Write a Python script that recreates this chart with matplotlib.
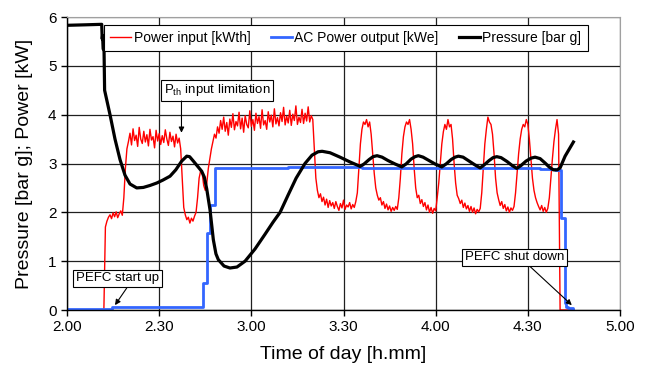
import numpy as np
import matplotlib
matplotlib.use('Agg')
import matplotlib.pyplot as plt

plt.rcParams['font.family'] = 'Liberation Sans'
plt.rcParams['mathtext.default'] = 'regular'

# thermal power input, logged every 30 s from 2.00 h (decimal hours)
red_power = [0.0] * 24 + [
    0.00, 1.70, 1.82, 1.90, 1.95, 1.87, 1.99, 1.91, 2.01, 1.89,
    1.97, 2.03, 1.94, 2.30, 2.90, 3.30, 3.45, 3.62, 3.38, 3.71,
    3.47, 3.58, 3.35, 3.74, 3.50, 3.41, 3.66, 3.44, 3.59, 3.36,
    3.70, 3.48, 3.55, 3.32, 3.68, 3.46, 3.61, 3.39, 3.57, 3.43,
    3.69, 3.50, 3.37, 3.64, 3.45, 3.56, 3.34, 3.60, 3.42, 3.52,
    3.30, 2.70, 2.10, 1.95, 1.85, 1.90, 1.78, 1.88, 1.82, 1.92,
    2.00, 2.30, 2.70, 2.85, 2.80, 2.55, 2.45, 2.60, 2.90, 3.10,
    3.30, 3.45, 3.60, 3.52, 3.75, 3.62, 3.88, 3.70, 3.95, 3.66,
    3.84, 3.58, 3.91, 3.74, 4.02, 3.69, 3.86, 3.77, 4.05, 3.71,
    3.93, 3.64, 3.98, 3.80, 3.73, 4.08, 3.76, 3.90, 3.68, 4.03,
    3.82, 3.96, 3.72, 4.10, 3.79, 3.88, 3.70, 4.06, 3.85, 3.99,
    3.75, 4.12, 3.81, 3.94, 3.77, 4.04, 3.86, 4.15, 3.79, 3.97,
    3.83, 4.09, 3.78, 4.01, 3.88, 4.18, 3.80, 3.95, 3.84, 4.11,
    3.82, 4.03, 3.87, 4.16, 3.85, 3.98, 3.90, 3.30, 2.70, 2.45,
    2.30, 2.38, 2.22, 2.31, 2.15, 2.27, 2.10, 2.24, 2.13, 2.20,
    2.08, 2.22, 2.12, 2.04, 2.18, 2.09, 2.25, 2.06, 2.15, 2.11,
    2.20, 2.07, 2.16, 2.10, 2.22, 2.40, 2.90, 3.40, 3.70, 3.85,
    3.80, 3.90, 3.75, 3.85, 3.60, 3.20, 2.80, 2.50, 2.35, 2.25,
    2.30, 2.15, 2.22, 2.08, 2.17, 2.05, 2.13, 2.02, 2.10, 2.04,
    2.12, 2.06, 2.30, 2.70, 3.20, 3.55, 3.75, 3.85, 3.80, 3.90,
    3.70, 3.40, 2.90, 2.50, 2.30, 2.35, 2.18, 2.26, 2.12, 2.20,
    2.05, 2.15, 2.00, 2.10, 1.98, 2.08, 2.03, 2.30, 2.60, 3.00,
    3.40, 3.65, 3.80, 3.70, 3.90, 3.75, 3.80, 3.50, 3.00, 2.60,
    2.35, 2.28, 2.18, 2.25, 2.10, 2.19, 2.07, 2.14, 2.02, 2.12,
    2.00, 2.09, 1.97, 2.06, 2.01, 2.08, 2.40, 2.90, 3.40, 3.70,
    3.95, 3.85, 3.80, 3.60, 3.20, 2.70, 2.40, 2.26, 2.14, 2.22,
    2.08, 2.16, 2.03, 2.11, 2.00, 2.09, 2.04, 2.12, 2.40, 2.80,
    3.20, 3.50, 3.70, 3.80, 3.75, 3.90, 3.80, 3.50, 3.10, 2.70,
    2.45, 2.30, 2.20, 2.12, 2.05, 2.14, 2.02, 2.10, 2.00, 2.08,
    2.30, 2.70, 3.10, 3.45, 3.70, 3.90, 3.60, 0.00, 0.00, 0.00,
    0.00, 0.00, 0.00, 0.00, 0.00, 0.00, 0.00,
]
red_time = 2.0 + np.arange(len(red_power)) / 120.0

# AC power output (step changes)
blue_time = [2.000, 2.243, 2.739, 2.757, 2.776, 2.803, 3.200, 3.600, 4.000,
             4.400, 4.566, 4.610, 4.645, 4.678, 4.700, 4.705, 4.720, 4.747]
blue_power = [0.02, 0.06, 0.55, 1.58, 2.15, 2.91, 2.92, 2.91, 2.91,
              2.90, 2.89, 2.88, 2.87, 1.88, 0.15, 0.07, 0.04, 0.03]

# pressure
p_time = [2.000, 2.100, 2.1883, 2.1910, 2.1930, 2.1960, 2.2010, 2.2040,
          2.2333, 2.2604, 2.2876, 2.3147, 2.3418, 2.3782, 2.4140,
          2.4500, 2.4867, 2.5200, 2.5589, 2.5900, 2.6224, 2.6495, 2.6650,
          2.6853, 2.7309, 2.7450, 2.7580, 2.7759, 2.7938, 2.8080, 2.8210,
          2.8520, 2.8840, 2.9220, 2.9660, 3.0200, 3.0740, 3.1180, 3.1560,
          3.1990, 3.2430, 3.2910, 3.3290, 3.3620, 3.3840, 3.4270, 3.4810,
          3.5360, 3.5790, 3.5898, 3.6115, 3.6386, 3.6603, 3.6820, 3.7092,
          3.7417, 3.7797, 3.8161, 3.8394, 3.8665, 3.8882, 3.9061, 3.9316,
          3.9642, 3.9967, 4.0331, 4.0564, 4.0836, 4.1053, 4.1232, 4.1487,
          4.1812, 4.2138, 4.2409, 4.2626, 4.2897, 4.3114, 4.3315, 4.3548,
          4.3874, 4.4145, 4.4401, 4.4634, 4.4905, 4.5176, 4.5393, 4.5665,
          4.5936, 4.6153, 4.6386, 4.6587, 4.6750, 4.7021, 4.7472]
pressure = [5.83, 5.84, 5.85, 5.55, 5.62, 5.35, 5.30, 4.50,
            4.00, 3.50, 3.08, 2.76, 2.58, 2.50, 2.51,
            2.55, 2.60, 2.66, 2.74, 2.87, 3.05, 3.15, 3.14,
            3.05, 2.84, 2.72, 2.48, 2.05, 1.44, 1.15, 1.03,
            0.90, 0.86, 0.88, 1.00, 1.25, 1.55, 1.80, 2.00,
            2.35, 2.70, 3.00, 3.17, 3.24, 3.25, 3.22, 3.13,
            3.03, 2.96, 2.94, 2.99, 3.08, 3.14, 3.16, 3.13,
            3.06, 2.99, 2.93, 2.99, 3.09, 3.14, 3.16, 3.13,
            3.06, 2.99, 2.93, 2.99, 3.08, 3.13, 3.15, 3.13,
            3.05, 2.97, 2.91, 2.97, 3.06, 3.12, 3.14, 3.12,
            3.04, 2.96, 2.90, 2.96, 3.05, 3.11, 3.13, 3.10,
            3.01, 2.93, 2.87, 2.87, 2.91, 3.15, 3.44]

x_ticks = [2.0, 2.5, 3.0, 3.5, 4.0, 4.5, 5.0]
x_labels = ['2.00', '2.30', '3.00', '3.30', '4.00', '4.30', '5.00']


def main():
    fig = plt.figure(figsize=(6.48, 3.68), dpi=100)
    ax = fig.add_axes([0.1034, 0.1576, 0.8534, 0.7962])

    ax.plot(red_time, red_power, color='#ff0000', lw=1.0, label='Power input [kWth]')
    ax.plot(blue_time, blue_power, color='#3366ff', lw=2.0, drawstyle='steps-post',
            label='AC Power output [kWe]')
    ax.plot(p_time, pressure, color='black', lw=2.3, label='Pressure [bar g]')

    ax.set_xlim(2, 5)
    ax.set_ylim(0, 6)
    ax.set_xticks(x_ticks)
    ax.set_xticklabels(x_labels)
    ax.set_yticks(range(7))
    ax.tick_params(labelsize=11, length=4, width=1, direction='out')
    ax.grid(True, color='#202020', lw=0.9)
    ax.set_axisbelow(True)
    for s in ['top', 'right']:
        ax.spines[s].set_color('#a0a0a0')
    for s in ['left', 'bottom']:
        ax.spines[s].set_linewidth(1.0)

    ax.set_xlabel('Time of day [h.mm]', fontsize=14, labelpad=8)
    ax.set_ylabel('Pressure [bar g]; Power [kW]', fontsize=14, labelpad=11)

    leg = ax.legend(loc='upper left', bbox_to_anchor=(0.067, 0.973), ncol=3,
                    fontsize=10, handlelength=1.5, handletextpad=0.2,
                    columnspacing=1.45, borderpad=0.45, borderaxespad=0,
                    fancybox=False, framealpha=1, edgecolor='black')
    leg.get_frame().set_linewidth(0.8)

    box = dict(boxstyle='square,pad=0.2', fc='white', ec='black', lw=0.8)
    arrow = dict(arrowstyle='-|>', color='black', lw=0.8, mutation_scale=8,
                 shrinkA=0, shrinkB=0)

    ax.text(2.274, 0.65, 'PEFC start up', fontsize=9.5, ha='center', va='center', bbox=box)
    ax.annotate('', xy=(2.2604, 0.10), xytext=(2.324, 0.45), arrowprops=arrow)

    ax.text(2.814, 4.50, 'P$_{th}$ input limitation', fontsize=9.5, ha='center',
            va='center', bbox=box)
    ax.annotate('', xy=(2.621, 3.63), xytext=(2.621, 4.28), arrowprops=arrow)

    ax.text(4.4265, 1.08, 'PEFC shut down', fontsize=9.5, ha='center', va='center', bbox=box)
    ax.annotate('', xy=(4.7385, 0.10), xytext=(4.5122, 0.89), arrowprops=arrow)

    fig.savefig('out.png', dpi=100)


if __name__ == '__main__':
    main()
